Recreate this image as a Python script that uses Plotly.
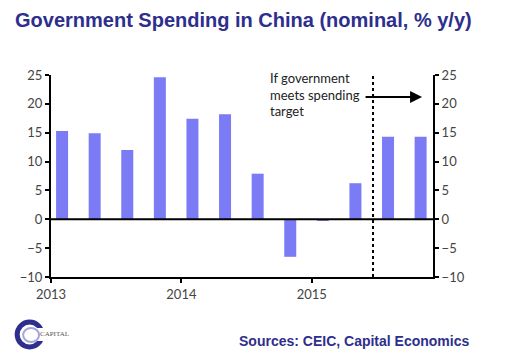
import plotly.graph_objects as go

quarters = ["Q1 2013", "Q2 2013", "Q3 2013", "Q4 2013",
            "Q1 2014", "Q2 2014", "Q3 2014", "Q4 2014",
            "Q1 2015", "Q2 2015", "Q3 2015", "Q4 2015"]
x_pos = [2013.085, 2013.335, 2013.585, 2013.835,
         2014.085, 2014.335, 2014.585, 2014.835,
         2015.085, 2015.335, 2015.585, 2015.835]
spending = [15.3, 14.9, 12.0, 24.6, 17.4, 18.2, 7.9, -6.5, -0.3, 6.25, 14.3, 14.3]
year_ticks = [2013, 2014, 2015]
year_labels = ["2013", "2014", "2015"]
y_ticks = [-10, -5, 0, 5, 10, 15, 20, 25]
target_start = 2015.47
note_lines = ["If government", "meets spending", "target"]

BAR = "#7b7bf6"
NAVY = "#2e2e8c"
TICKFONT = dict(family="Lato, Open Sans, sans-serif", size=13, color="#444444")

# page has an 8px body margin; the figure is drawn offset by (8, 8)
OFF = 8
W, H = 526 - OFF, 358 - OFF
PL, PR, PT, PB = 49, 433, 75, 277  # plot area in page pixels


def pp(X, Y):
    """page pixel -> paper coords"""
    return ((X - PL) / (PR - PL), (PB - Y) / (PB - PT))


fig = go.Figure()
fig.add_trace(go.Bar(x=x_pos, y=spending, width=0.092, marker=dict(color=BAR, line=dict(width=0)),
                     text=quarters, hoverinfo="y+text", textposition="none"))
fig.add_trace(go.Scatter(x=x_pos, y=spending, yaxis="y2", mode="markers",
                         marker=dict(opacity=0), hoverinfo="skip", showlegend=False))

axis_common = dict(range=[-10, 25], tickvals=y_ticks, showgrid=False, zeroline=False,
                   showline=True, linecolor="black", linewidth=2,
                   ticks="outside", ticklen=4, tickwidth=2, tickcolor="black",
                   tickfont=TICKFONT)

fig.update_layout(
    width=W, height=H,
    margin=dict(l=PL - OFF, r=W - (PR - OFF), t=PT - OFF, b=H - (PB - OFF)),
    paper_bgcolor="white", plot_bgcolor="white",
    showlegend=False,
    xaxis=dict(range=[2013, 2015.93], tickvals=year_ticks, ticktext=year_labels,
               showgrid=False, zeroline=False, showline=True, linecolor="black", linewidth=2,
               ticks="outside", ticklen=4, tickwidth=2, tickcolor="black", tickfont=TICKFONT),
    yaxis=dict(**axis_common, side="left"),
    yaxis2=dict(**axis_common, side="right", overlaying="y"),
    title=dict(text="<b>Government Spending in China (nominal, % y/y)</b>",
               x=(15 - OFF) / W, xanchor="left", y=1 - (20 - OFF) / H, yanchor="middle",
               font=dict(family="Liberation Sans, Arial, sans-serif", size=20, color=NAVY)),
)

# zero line
fig.add_shape(type="line", xref="paper", yref="y", x0=0, x1=1, y0=0, y1=0,
              line=dict(color="black", width=2))
# dotted vertical separator
fig.add_shape(type="line", xref="x", yref="paper", x0=target_start, x1=target_start, y0=0, y1=1,
              line=dict(color="black", width=2, dash="dot"))

# annotation text, one line each for tight spacing
for i, line in enumerate(note_lines):
    x, y = pp(267, 78 + 16.5 * i)
    fig.add_annotation(x=x, y=y, xref="paper", yref="paper", showarrow=False,
                       text=line, xanchor="left", yanchor="middle",
                       font=dict(family="Lato, Open Sans, sans-serif", size=13, color="#222222"))
# arrow
ax_, ay_ = pp(422, 97)
fig.add_annotation(x=ax_, y=ay_, ax=364 - 422, ay=0,
                   xref="paper", yref="paper",
                   showarrow=True, arrowhead=2, arrowsize=1.2, arrowwidth=2, arrowcolor="black", text="")

# sources
sx, sy = pp(471, 341)
fig.add_annotation(x=sx, y=sy, xref="paper", yref="paper",
                   xanchor="right", yanchor="middle", showarrow=False,
                   text="<b>Sources: CEIC, Capital Economics</b>",
                   font=dict(family="Liberation Sans, Arial, sans-serif", size=14, color=NAVY))

# logo (approximate)
x0, y1 = pp(15, 322)
x1, y0 = pp(40, 347)
fig.add_shape(type="circle", xref="paper", yref="paper", x0=x0, x1=x1, y0=y0, y1=y1,
              line=dict(color=NAVY, width=5))
x0, y1 = pp(30, 328)
x1, y0 = pp(44, 341)
fig.add_shape(type="rect", xref="paper", yref="paper", x0=x0, x1=x1, y0=y0, y1=y1,
              line=dict(width=0), fillcolor="white")
x0, y1 = pp(21, 328)
x1, y0 = pp(37, 342)
fig.add_shape(type="circle", xref="paper", yref="paper", x0=x0, x1=x1, y0=y0, y1=y1,
              line=dict(color="#a6a6dd", width=2))
lx, ly = pp(36, 334)
fig.add_annotation(x=lx, y=ly, xref="paper", yref="paper",
                   xanchor="left", yanchor="middle", showarrow=False, text="CAPITAL",
                   font=dict(family="Liberation Serif, serif", size=7, color="#555555"))

fig.write_html("out.html")
